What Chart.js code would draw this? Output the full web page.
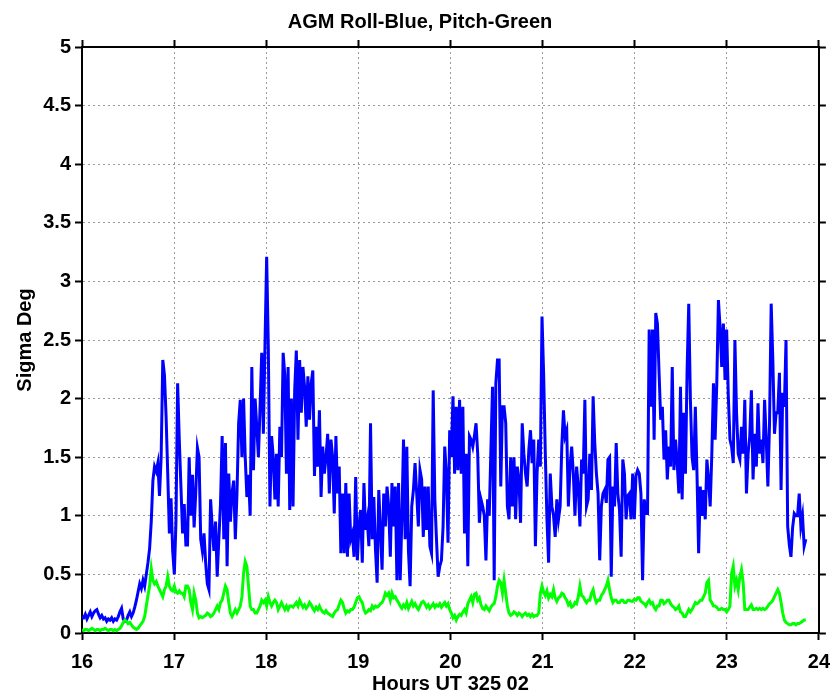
<!DOCTYPE html>
<html>
<head>
<title>AGM Roll / Pitch sigma</title>
<script src="https://cdn.jsdelivr.net/npm/chart.js"></script>
<style>
    body {
        margin: 0;
        background: #fff;
    }
    #wrap {
        width: 840px;
        height: 696px;
    }
</style>
</head>
<body>
<div id="wrap"><canvas id="agmChart" width="840" height="696"></canvas></div>
<script>
// samples start at 16:00 UT, roughly one every 1.07 minutes
const startHour = 16;
const stepHour = 1.074 / 60;

const xRange = [16, 24];
const yRange = [0, 5];

const chartTitle = "AGM Roll-Blue, Pitch-Green";
const xTitle = "Hours UT 325 02";
const yTitle = "Sigma Deg";

// roll sigma (blue), degrees
const rollSigma = [
    0.14,0.13,0.16,0.12,0.15,0.18,0.14,0.17,0.19,0.20,
    0.16,0.13,0.15,0.12,0.13,0.10,0.12,0.11,0.13,0.10,
    0.12,0.11,0.14,0.18,0.21,0.12,0.10,0.11,0.15,0.18,
    0.14,0.17,0.22,0.28,0.35,0.42,0.38,0.45,0.40,0.50,
    0.60,0.72,0.95,1.30,1.42,1.38,1.45,1.17,1.50,2.33,
    2.20,1.85,1.36,0.85,1.15,0.70,0.50,0.95,2.13,1.65,
    1.25,0.85,1.10,0.75,
    0.75,1.50,1.00,1.35,0.90,1.20,1.58,1.50,0.80,0.70,
    0.85,0.60,0.42,0.37,1.14,0.90,0.70,0.95,0.48,0.80,
    1.10,1.68,0.80,1.62,0.57,1.36,0.95,1.20,1.30,0.80,
    1.19,1.79,1.99,1.50,2.00,1.50,1.16,1.35,1.00,2.27,
    1.39,2.00,1.76,1.50,1.93,2.39,1.70,2.47,3.21,2.44,
    1.08,1.68,1.50,1.14,1.53,1.08,1.76,1.50,2.39,2.20,
    1.36,2.27,1.05,2.00,
    1.08,2.07,2.41,1.65,2.33,1.88,2.27,2.10,1.76,2.19,
    1.82,2.13,2.24,1.34,1.76,1.42,1.90,1.16,1.59,1.36,
    1.50,1.70,1.19,1.65,1.50,1.02,1.68,1.19,1.42,0.68,
    1.19,0.68,1.28,0.65,1.19,0.80,0.85,0.65,1.33,0.62,
    0.91,1.05,0.60,1.28,0.88,0.97,0.74,1.79,0.80,1.16,
    0.71,0.43,1.22,0.88,0.54,1.19,0.91,1.25,1.08,0.65,
    1.28,0.91,1.25,0.45,
    1.28,0.45,0.97,1.65,0.80,1.59,0.70,0.40,1.08,1.22,
    1.45,1.19,0.91,1.39,1.31,0.82,1.25,0.88,1.25,0.74,
    0.68,2.07,1.14,0.80,0.48,0.57,0.62,0.91,1.59,1.36,
    0.77,1.73,1.50,2.02,1.36,1.93,1.39,1.99,1.36,1.93,
    0.85,1.53,0.57,1.68,1.65,1.59,1.68,1.79,1.53,0.94,
    1.14,1.08,1.00,0.62,1.14,1.00,1.56,2.10,0.45,2.13,
    2.33,2.33,1.25,1.93,
    1.93,1.79,1.08,0.97,1.50,1.08,1.50,0.97,1.42,1.31,
    0.94,1.79,1.53,1.36,1.25,1.56,1.73,1.45,1.65,0.74,
    1.36,1.65,1.42,2.70,2.20,1.53,0.97,0.60,1.36,1.08,
    1.00,0.82,1.14,0.97,1.08,1.59,1.90,1.68,1.73,1.08,
    1.42,1.59,1.36,1.00,1.42,1.25,0.91,1.48,1.36,1.99,
    1.08,1.14,1.53,1.22,2.02,1.62,1.36,1.19,0.62,1.08,
    1.19,1.22,1.11,1.48,
    1.50,0.48,1.25,1.08,1.62,1.19,1.05,0.65,1.48,1.36,
    0.97,1.17,1.19,0.97,1.36,0.97,1.34,1.39,1.36,1.19,
    0.45,1.14,1.02,1.02,2.59,1.93,2.59,1.65,2.73,2.64,
    2.22,1.82,1.93,1.48,1.73,1.31,1.59,1.42,2.27,1.39,
    1.65,1.45,1.19,2.10,1.14,1.88,1.36,2.24,2.81,1.99,
    1.50,1.39,1.93,1.36,0.68,1.25,1.00,1.22,0.97,1.48,
    1.31,1.08,1.53,2.13,
    1.65,2.13,2.84,2.61,2.27,2.64,2.16,2.59,2.02,1.65,
    1.59,1.45,2.50,1.88,1.53,1.48,1.76,1.53,1.99,1.19,
    1.53,1.68,2.07,1.31,1.70,1.42,1.96,1.53,1.65,1.45,
    1.99,1.65,1.25,1.79,2.81,2.33,1.70,1.88,1.88,2.22,
    1.22,2.05,1.93,2.50,0.91,0.75,0.65,0.90,1.02,1.00,
    1.00,1.19,0.91,1.00,0.74,0.80
];

// pitch sigma (green), degrees
const pitchSigma = [
    0.03,0.02,0.03,0.03,0.02,0.03,0.04,0.03,0.02,0.03,
    0.03,0.02,0.03,0.03,0.04,0.03,0.02,0.03,0.03,0.02,
    0.03,0.02,0.03,0.04,0.06,0.09,0.11,0.10,0.08,0.09,
    0.07,0.05,0.04,0.03,0.04,0.06,0.08,0.10,0.14,0.23,
    0.32,0.40,0.55,0.45,0.42,0.44,0.40,0.37,0.34,0.31,
    0.37,0.40,0.48,0.40,0.37,0.36,0.40,0.35,0.34,0.36,
    0.34,0.34,0.31,0.40,
    0.40,0.37,0.26,0.20,0.34,0.28,0.17,0.13,0.14,0.13,
    0.14,0.15,0.17,0.16,0.14,0.15,0.17,0.20,0.23,0.20,
    0.26,0.28,0.34,0.40,0.37,0.26,0.17,0.14,0.17,0.20,
    0.17,0.20,0.23,0.31,0.51,0.61,0.57,0.40,0.23,0.20,
    0.20,0.17,0.17,0.20,0.23,0.28,0.26,0.28,0.23,0.31,
    0.26,0.23,0.26,0.28,0.26,0.20,0.23,0.26,0.23,0.20,
    0.23,0.20,0.23,0.23,
    0.22,0.24,0.26,0.23,0.28,0.25,0.22,0.24,0.21,0.23,
    0.26,0.24,0.21,0.19,0.22,0.20,0.23,0.20,0.18,0.17,
    0.19,0.17,0.16,0.15,0.14,0.17,0.19,0.20,0.24,0.28,
    0.26,0.21,0.17,0.19,0.18,0.20,0.20,0.22,0.26,0.30,
    0.31,0.28,0.26,0.20,0.17,0.18,0.20,0.19,0.23,0.21,
    0.23,0.22,0.23,0.25,0.26,0.29,0.34,0.32,0.34,0.28,
    0.34,0.30,0.31,0.28,
    0.26,0.23,0.21,0.24,0.22,0.26,0.21,0.24,0.27,0.23,
    0.25,0.22,0.20,0.23,0.26,0.27,0.25,0.22,0.24,0.21,
    0.23,0.25,0.22,0.24,0.23,0.25,0.22,0.24,0.26,0.23,
    0.25,0.20,0.17,0.13,0.15,0.11,0.14,0.16,0.15,0.18,
    0.20,0.17,0.25,0.28,0.31,0.26,0.33,0.34,0.28,0.30,
    0.24,0.21,0.20,0.23,0.21,0.19,0.22,0.24,0.25,0.31,
    0.40,0.45,0.43,0.34,
    0.45,0.34,0.23,0.17,0.15,0.16,0.18,0.17,0.15,0.17,
    0.16,0.14,0.16,0.17,0.15,0.16,0.14,0.16,0.14,0.15,
    0.15,0.17,0.34,0.40,0.35,0.32,0.36,0.30,0.33,0.31,
    0.37,0.30,0.27,0.30,0.31,0.34,0.33,0.30,0.28,0.24,
    0.26,0.22,0.23,0.26,0.25,0.31,0.40,0.32,0.31,0.28,
    0.26,0.28,0.28,0.34,0.37,0.30,0.26,0.28,0.28,0.32,
    0.34,0.37,0.40,0.45,
    0.37,0.30,0.26,0.28,0.28,0.26,0.26,0.28,0.28,0.26,
    0.26,0.28,0.28,0.27,0.27,0.29,0.28,0.30,0.30,0.27,
    0.26,0.25,0.23,0.26,0.28,0.25,0.26,0.22,0.20,0.23,
    0.23,0.28,0.28,0.25,0.26,0.28,0.28,0.25,0.23,0.22,
    0.20,0.21,0.23,0.18,0.17,0.14,0.14,0.17,0.20,0.18,
    0.20,0.23,0.26,0.25,0.26,0.28,0.28,0.31,0.34,0.43,
    0.45,0.28,0.26,0.23,
    0.23,0.22,0.20,0.20,0.21,0.20,0.20,0.18,0.20,0.23,
    0.51,0.57,0.40,0.45,0.37,0.48,0.54,0.43,0.20,0.20,
    0.20,0.22,0.24,0.20,0.20,0.21,0.20,0.21,0.20,0.21,
    0.20,0.21,0.23,0.25,0.26,0.28,0.31,0.34,0.37,0.34,
    0.26,0.17,0.11,0.09,0.08,0.07,0.07,0.08,0.08,0.07,
    0.08,0.08,0.09,0.10,0.11,0.11
];

function toPoints(values) {
    return values.map((v, i) => ({ x: startHour + i * stepHour, y: v }));
}

const labelFont = { family: "Arial, 'Liberation Sans', sans-serif", size: 20, weight: "bold" };

// axis line + outward tick marks, dotted grid inside
function frameAxis(extra) {
    return Object.assign({
        type: "linear",
        grid: {
            color: "#9a9a9a",
            lineWidth: 1,
            tickColor: "#000",
            tickWidth: 2,
            tickLength: 7
        },
        border: { color: "#000", width: 2, dash: [2, 3] }
    }, extra);
}

new Chart(document.getElementById("agmChart"), {
    type: "line",
    data: {
        datasets: [
            {
                label: "Pitch",
                data: toPoints(pitchSigma),
                borderColor: "#00ff00",
                borderWidth: 3,
                pointRadius: 0,
                fill: false
            },
            {
                label: "Roll",
                data: toPoints(rollSigma),
                borderColor: "#0000ff",
                borderWidth: 3,
                pointRadius: 0,
                fill: false
            }
        ]
    },
    options: {
        responsive: false,
        animation: false,
        layout: { padding: { left: 0, right: 0, top: 0, bottom: 0 } },
        plugins: {
            legend: { display: false },
            tooltip: { enabled: false },
            title: {
                display: true,
                text: chartTitle,
                color: "#000",
                font: labelFont,
                padding: { top: 10, bottom: 6 }
            }
        },
        scales: {
            x: frameAxis({
                position: "bottom",
                min: xRange[0],
                max: xRange[1],
                ticks: { stepSize: 1, color: "#000", font: labelFont, padding: 10, maxRotation: 0 },
                title: { display: true, text: xTitle, color: "#000", font: labelFont, padding: { top: 0, bottom: 0 } },
                afterFit: s => { s.height = 63; }
            }),
            xTop: frameAxis({
                position: "top",
                min: xRange[0],
                max: xRange[1],
                ticks: { stepSize: 1, display: false },
                grid: { drawOnChartArea: false, tickColor: "#000", tickWidth: 2, tickLength: 7 },
                afterFit: s => { s.height = 7; }
            }),
            y: frameAxis({
                position: "left",
                min: yRange[0],
                max: yRange[1],
                ticks: {
                    stepSize: 0.5,
                    color: "#000",
                    font: labelFont,
                    padding: 4,
                    callback: v => String(v)
                },
                title: { display: true, text: yTitle, color: "#000", font: labelFont, padding: { top: 13, bottom: 0 } },
                afterFit: s => { s.width = 82; }
            }),
            yRight: frameAxis({
                position: "right",
                min: yRange[0],
                max: yRange[1],
                ticks: { stepSize: 0.5, display: false },
                grid: { drawOnChartArea: false, tickColor: "#000", tickWidth: 2, tickLength: 7 },
                afterFit: s => { s.width = 13; }
            })
        }
    }
});
</script>
</body>
</html>
